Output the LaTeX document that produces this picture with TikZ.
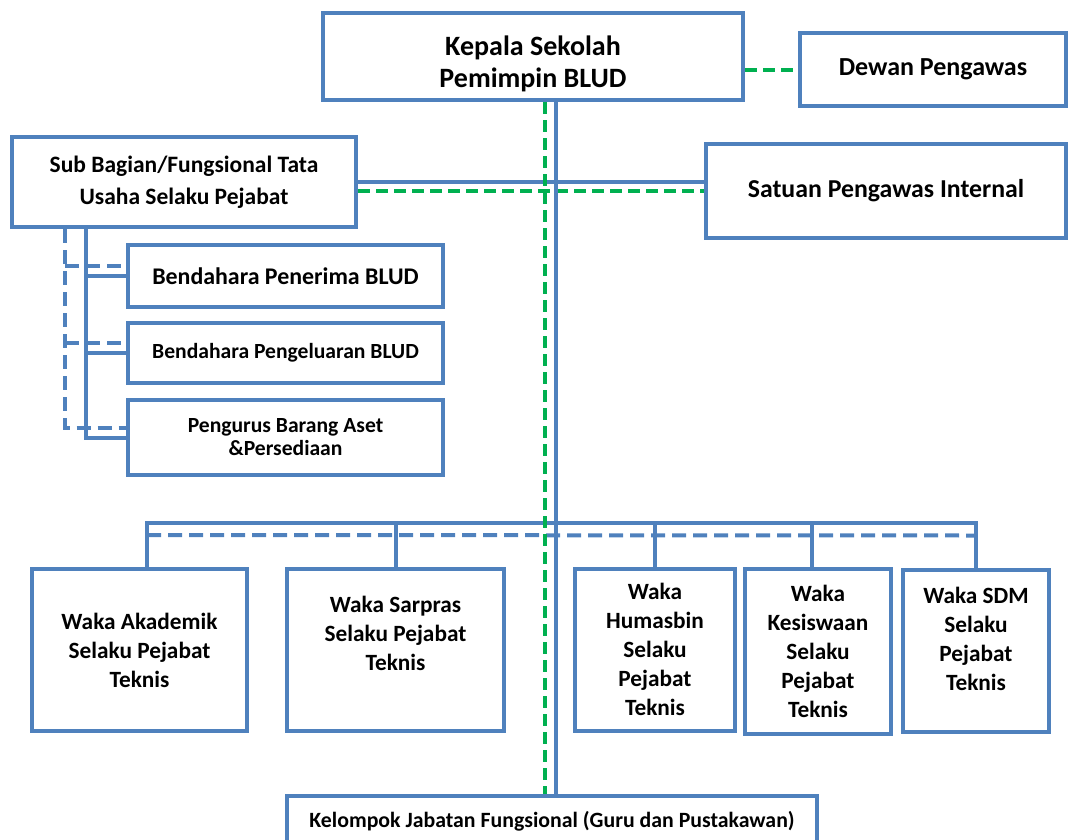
\documentclass[tikz,border=0pt]{standalone}
\usepackage{fontspec}
\setmainfont{Carlito}
\usepackage{xcolor}
\definecolor{boxblue}{RGB}{79,129,189}
\definecolor{linegreen}{RGB}{0,176,80}

\begin{document}
\begin{tikzpicture}[x=1pt, y=-1pt,
  box/.style={draw=boxblue, line width=4pt, fill=white, align=center, inner sep=2pt},
  blueline/.style={draw=boxblue, line width=4pt},
  bluedash/.style={draw=boxblue, line width=4pt, dash pattern=on 14pt off 7pt},
  greendash/.style={draw=linegreen, line width=4pt, dash pattern=on 12pt off 6pt}]
  \useasboundingbox (0,0) rectangle (1071,839);
  % Top boxes
  \node[box, minimum width=420pt, minimum height=87pt, text height=62pt, text depth=0pt, font=\bfseries\fontsize{28}{32}\selectfont] (kepala) at (533,56.5) {Kepala Sekolah\\Pemimpin BLUD};
  \node[box, minimum width=266pt, minimum height=73pt, font=\bfseries\fontsize{26}{31}\selectfont] (dewan) at (933,69.5) {Dewan Pengawas};
  \node[box, minimum width=360pt, minimum height=94pt, font=\bfseries\fontsize{25.8}{31}\selectfont] (satuan) at (886,191) {Satuan Pengawas Internal};
  \node[box, minimum width=344pt, minimum height=90pt, font=\bfseries\fontsize{23.5}{32}\selectfont] (sub) at (184,182) {Sub Bagian/Fungsional Tata\\Usaha Selaku Pejabat};
  % Bendahara boxes
  \node[box, minimum width=315pt, minimum height=62pt, font=\bfseries\fontsize{23.9}{27}\selectfont] (penerima) at (285.5,276) {Bendahara Penerima BLUD};
  \node[box, minimum width=315pt, minimum height=60pt, font=\bfseries\fontsize{21.6}{25}\selectfont] (pengeluaran) at (285.5,353) {Bendahara Pengeluaran BLUD};
  \node[box, minimum width=315pt, minimum height=75pt, font=\bfseries\fontsize{21.6}{23}\selectfont] (aset) at (285.5,437.5) {Pengurus Barang Aset\\\&Persediaan};
  % Waka boxes
  \tikzset{waka/.style={box, minimum height=162pt, font=\bfseries\fontsize{23.3}{29}\selectfont}}
  \node[waka, minimum width=215pt] (akademik) at (139.5,650) {Waka Akademik\\Selaku Pejabat\\Teknis};
  \node[waka, minimum width=217pt, text depth=34pt] (sarpras) at (395.5,650) {Waka Sarpras\\Selaku Pejabat\\Teknis};
  \node[waka, minimum width=160pt] (humasbin) at (655,649.5) {Waka\\Humasbin\\Selaku\\Pejabat\\Teknis};
  \node[waka, minimum width=146pt, minimum height=165pt] (kesiswaan) at (818,651.5) {Waka\\Kesiswaan\\Selaku\\Pejabat\\Teknis};
  \node[waka, minimum width=146pt, text depth=24pt] (sdm) at (976,650.5) {Waka SDM\\Selaku\\Pejabat\\Teknis};
  % Bottom box
  \node[box, minimum width=530pt, minimum height=50pt, font=\bfseries\fontsize{21.8}{25}\selectfont] (kelompok) at (552,821) {Kelompok Jabatan Fungsional (Guru dan Pustakawan)};

  % Dewan and Satuan links
  \draw[greendash] (kepala.east |- dewan.west) -- (dewan.west);
  \draw[blueline] (sub.east) -- (satuan.west |- sub.east);
  \draw[greendash] (sub.east |- satuan.west) -- (satuan.west);
  % Left tree under Sub Bagian
  \coordinate (trunk) at ([xshift=76pt]sub.south west);
  \coordinate (trunkd) at ([xshift=55pt]sub.south west);
  \draw[blueline] (trunk) |- (aset.west);
  \draw[blueline] (trunk |- penerima.west) -- (penerima.west);
  \draw[blueline] (trunk |- pengeluaran.west) -- (pengeluaran.west);
  \draw[bluedash] (trunkd) |- ([yshift=10pt]aset.west);
  \draw[bluedash] ([yshift=10pt]trunkd |- penerima.west) -- ([yshift=10pt]penerima.west);
  \draw[bluedash] ([yshift=10pt]trunkd |- pengeluaran.west) -- ([yshift=10pt]pengeluaran.west);
  % Bus to the Waka boxes
  \draw[blueline] ([xshift=7.5pt]akademik.north) -- ++(0,-44) -| (sdm.north);
  \draw[blueline] (sarpras.north) -- ++(0,-44);
  \draw[blueline] (humasbin.north) -- ++(0,-44);
  \draw[blueline] ([xshift=-6pt]kesiswaan.north) -- ++(0,-45.5);
  \draw[bluedash] ([xshift=7.5pt, yshift=32pt]akademik.north) -- ([yshift=32pt]sdm.north);
  % Spine from Kepala to Kelompok
  \coordinate (spine) at (kelompok.north |- kepala.south);
  \draw[blueline] ([xshift=4pt]spine) -- ([xshift=4pt]kelompok.north);
  \draw[greendash] ([xshift=-7pt]spine) -- ([xshift=-7pt]kelompok.north);
\end{tikzpicture}
\end{document}
